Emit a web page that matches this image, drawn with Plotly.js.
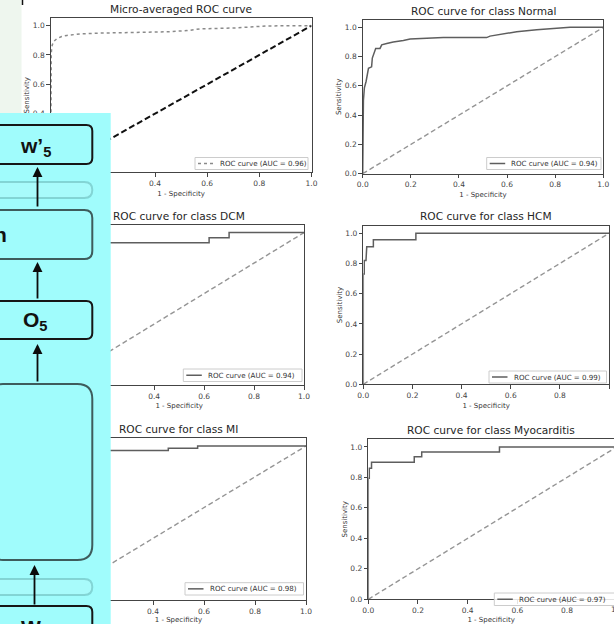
<!DOCTYPE html>
<html><head><meta charset="utf-8">
<script src="https://cdn.plot.ly/plotly-3.0.1.min.js"></script>
<style>html,body{margin:0;padding:0;background:#fff}#chart{width:614px;height:624px}</style>
</head><body><div id="chart"></div>
<script>
// ---------- data ----------
const panelTitles = ['Micro-averaged ROC curve','ROC curve for class Normal','ROC curve for class DCM','ROC curve for class HCM','ROC curve for class MI','ROC curve for class Myocarditis'];
const aucValues = [0.96, 0.94, 0.94, 0.99, 0.98, 0.97];
const tickValues = [0, 0.2, 0.4, 0.6, 0.8, 1.0];
const diagX = [0, 1];
const diagY = [0, 1];

const microFpr = [0, 0, 0.002, 0.004, 0.01, 0.023, 0.042, 0.062, 0.113, 0.19, 0.318, 0.446, 0.523, 0.574, 0.703, 0.831, 1.0];
const microTpr = [0, 0.55, 0.8, 0.855, 0.89, 0.91, 0.926, 0.933, 0.944, 0.949, 0.953, 0.958, 0.966, 0.978, 0.984, 0.998, 1.0];

const normalFpr = [0, 0, 0.003, 0.007, 0.014, 0.024, 0.037, 0.04, 0.047, 0.054, 0.072, 0.079, 0.1, 0.127, 0.169, 0.197, 0.335, 0.515, 0.529, 0.585, 0.64, 0.723, 0.862, 1.0];
const normalTpr = [0, 0.25, 0.5, 0.586, 0.63, 0.72, 0.73, 0.79, 0.82, 0.856, 0.856, 0.88, 0.89, 0.90, 0.91, 0.92, 0.93, 0.93, 0.94, 0.957, 0.97, 0.984, 1.0, 1.0];

const dcmFpr = [0, 0, 0.02, 0.02, 0.05, 0.05, 0.1, 0.1, 0.62, 0.62, 0.70, 0.70, 1.0];
const dcmTpr = [0, 0.6, 0.6, 0.8, 0.8, 0.9, 0.9, 0.933, 0.933, 0.967, 0.967, 1.0, 1.0];

const hcmFpr = [0, 0, 0.004, 0.004, 0.011, 0.011, 0.014, 0.014, 0.041, 0.041, 0.214, 0.214, 1.0];
const hcmTpr = [0, 0.73, 0.73, 0.82, 0.82, 0.87, 0.87, 0.91, 0.91, 0.957, 0.957, 1.0, 1.0];

const miFpr = [0, 0, 0.03, 0.03, 0.46, 0.46, 0.575, 0.575, 1.0];
const miTpr = [0, 0.85, 0.85, 0.97, 0.97, 0.985, 0.985, 1.0, 1.0];

const myoFpr = [0, 0, 0.004, 0.004, 0.009, 0.013, 0.013, 0.185, 0.185, 0.215, 0.215, 0.528, 0.528, 1.0];
const myoTpr = [0, 0.794, 0.794, 0.86, 0.86, 0.86, 0.9, 0.9, 0.935, 0.935, 0.967, 0.967, 1.0, 1.0];

// ---------- layout helpers ----------
const W = 614, H = 624;
const px = x => x / W;
const py = y => 1 - y / H;
const FONT = 'DejaVu Sans, Liberation Sans, sans-serif';

// panel frames in pixels: [left, right, top, bottom, xmax, show y title]
const frames = [
  [50.7, 311.5, 18.3, 172.3, 1.0, true],
  [362.7, 603.3, 20, 173.7, 1.0, true],
  [54.3, 304, 225, 385, 1.0, false],
  [363.3, 609, 225.7, 384.3, 1.0, true],
  [51, 306, 438.3, 600, 1.0, false],
  [368.3, 614, 439.3, 599.3, 0.989, true]
];
// legend boxes in pixels: [left, right, top, bottom]
const legendBoxes = [
  [195, 308, 157.5, 169.5], [486.7, 601, 157.5, 169.5], [183.3, 302, 369, 381.5],
  [489, 606.5, 371, 383], [185, 303.5, 582.7, 595], [494.3, 620, 593, 605.5]
];
const curves = [
  [microFpr, microTpr], [normalFpr, normalTpr], [dcmFpr, dcmTpr],
  [hcmFpr, hcmTpr], [miFpr, miTpr], [myoFpr, myoTpr]
];

const layout = {
  width: W, height: H,
  margin: {l: 0, r: 0, t: 0, b: 0},
  paper_bgcolor: '#fff', plot_bgcolor: '#fff',
  showlegend: false,
  font: {family: FONT, color: '#333'},
  annotations: [], shapes: []
};
const data = [];

frames.forEach((f, i) => {
  const n = i === 0 ? '' : String(i + 1);
  const xa = 'xaxis' + n, ya = 'yaxis' + n;
  const common = {
    showgrid: false, zeroline: false, showline: true, mirror: true,
    linecolor: '#444', linewidth: 1, ticks: 'outside', ticklen: 3.5, tickwidth: 1,
    tickcolor: '#444', tickvals: tickValues, tickformat: '.1f',
    tickfont: {size: 7.5, color: '#444', family: FONT}, fixedrange: true
  };
  layout[xa] = Object.assign({}, common, {
    domain: [px(f[0]), px(f[1])], range: [0, f[4]], anchor: 'y' + n,
    title: {text: '1 - Specificity', font: {size: 7, color: '#333', family: FONT}, standoff: 3.5}
  });
  layout[ya] = Object.assign({}, common, {
    domain: [py(f[3]), py(f[2])], range: [0, 1.05], anchor: 'x' + n,
    mirror: f[4] < 1 ? false : true,
    title: {text: f[5] ? 'Sensitivity' : '', font: {size: 7, color: '#333', family: FONT}, standoff: 1.5}
  });
  // diagonal
  data.push({
    x: diagX, y: diagY, xaxis: 'x' + n, yaxis: 'y' + n, mode: 'lines', showlegend: false,
    hoverinfo: 'skip',
    line: i === 0 ? {color: '#111', width: 2, dash: '6px,3px'} : {color: '#959595', width: 1.4, dash: '5px,3px'}
  });
  // ROC curve
  const lineStyle = i === 0 ? {color: '#8a8a8a', width: 1.5, dash: 'dot'} : {color: '#5e5e5e', width: 1.5};
  data.push({
    x: curves[i][0], y: curves[i][1], xaxis: 'x' + n, yaxis: 'y' + n, mode: 'lines',
    name: 'ROC curve (AUC = ' + aucValues[i].toFixed(2) + ')', line: lineStyle
  });
  // panel title
  layout.annotations.push({
    xref: 'paper', yref: 'paper', x: px((f[0] + Math.min(f[1], 616.7)) / 2), y: py(f[2] - 9.5),
    xanchor: 'center', yanchor: 'middle', showarrow: false,
    text: panelTitles[i], font: {size: 10.6, color: '#262626', family: FONT}
  });
  // legend (matplotlib style, drawn small)
  const lb = legendBoxes[i];
  const mid = (lb[2] + lb[3]) / 2;
  layout.shapes.push(
    {type: 'rect', xref: 'paper', yref: 'paper', x0: px(lb[0]), x1: px(lb[1]), y0: py(lb[3]), y1: py(lb[2]),
      fillcolor: 'rgba(255,255,255,0.85)', line: {color: '#cccccc', width: 1}, layer: 'above'},
    {type: 'line', xref: 'paper', yref: 'paper', x0: px(lb[0] + 3), x1: px(lb[0] + 18.5), y0: py(mid), y1: py(mid),
      line: lineStyle, layer: 'above'}
  );
  layout.annotations.push({
    xref: 'paper', yref: 'paper', x: px(lb[0] + 22.5), y: py(mid), xanchor: 'left', yanchor: 'middle',
    showarrow: false, text: 'ROC curve (AUC = ' + aucValues[i].toFixed(2) + ')',
    font: {size: 7.1, color: '#333', family: FONT}
  });
});
// the last panel's 1.0 tick label lies partly beyond the page edge
layout.annotations.push({xref: 'paper', yref: 'paper', x: px(616.7), y: py(603), xanchor: 'center', yanchor: 'top',
  showarrow: false, text: '1.0', font: {size: 7.5, color: '#444', family: FONT}});

// ---------- overlay diagram on the left ----------
const CYAN = '#a0fcfc';
function rrect(l, r, t, b, rad) {
  const L = px(l), R = px(r), T = py(t), B = py(b);
  const rx = rad / W, ry = rad / H;
  return 'M' + (L + rx) + ',' + T + ' L' + (R - rx) + ',' + T + ' Q' + R + ',' + T + ' ' + R + ',' + (T - ry) +
    ' L' + R + ',' + (B + ry) + ' Q' + R + ',' + B + ' ' + (R - rx) + ',' + B +
    ' L' + (L + rx) + ',' + B + ' Q' + L + ',' + B + ' ' + L + ',' + (B + ry) +
    ' L' + L + ',' + (T - ry) + ' Q' + L + ',' + T + ' ' + (L + rx) + ',' + T + ' Z';
}
layout.shapes.push(
  {type: 'rect', xref: 'paper', yref: 'paper', x0: 0, x1: px(21.5), y0: py(113), y1: 1, fillcolor: '#eef6ee', line: {width: 0}, layer: 'above'},
  {type: 'line', xref: 'paper', yref: 'paper', x0: px(22.5), x1: px(22.5), y0: py(5), y1: 1, line: {color: '#111', width: 1.5}, layer: 'above'},
  {type: 'rect', xref: 'paper', yref: 'paper', x0: 0, x1: px(110.7), y0: 0, y1: py(113), fillcolor: CYAN, line: {width: 0}, layer: 'above'}
);
const boxes = [
  [125, 164, 6, '#161616', 'none'],
  [182, 198, 8, 'rgba(70,140,140,0.35)', '#a8fbfb'],
  [210, 259, 8, '#3e5c5c', 'none'],
  [301, 339, 6, '#161616', 'none'],
  [384, 560, 15, '#3e5c5c', 'none'],
  [579, 595, 8, 'rgba(70,140,140,0.35)', '#a8fbfb'],
  [606, 650, 6, '#161616', 'none']
];
boxes.forEach(b => layout.shapes.push({
  type: 'path', xref: 'paper', yref: 'paper', path: rrect(-12, 92.3, b[0], b[1], b[2]),
  line: {color: b[3], width: 2}, fillcolor: b[4] === 'none' ? 'rgba(0,0,0,0)' : b[4], layer: 'above'
}));
const arrows = [[37.5, 167, 208], [37.5, 262, 300], [37.5, 344, 383], [34.5, 565, 606]];
arrows.forEach(a => layout.annotations.push({
  xref: 'paper', yref: 'paper', x: px(a[0]), y: py(a[1]), ax: 0, ay: a[2] - a[1],
  axref: 'pixel', ayref: 'pixel', text: '', showarrow: true, arrowhead: 2, arrowsize: 1.1,
  arrowwidth: 1.8, arrowcolor: '#0c0c0c', standoff: 0, startstandoff: 0
}));
const boxFont = {family: 'Liberation Sans, Arial, sans-serif', size: 21, color: '#111'};
layout.annotations.push(
  {xref: 'paper', yref: 'paper', x: px(35), y: py(147), xanchor: 'center', yanchor: 'middle', showarrow: false, text: '<b>w’<sub>5</sub></b>', font: boxFont},
  {xref: 'paper', yref: 'paper', x: px(9), y: py(234), xanchor: 'right', yanchor: 'middle', showarrow: false, text: '<b>n</b>', font: boxFont},
  {xref: 'paper', yref: 'paper', x: px(35), y: py(321), xanchor: 'center', yanchor: 'middle', showarrow: false, text: '<b>O<sub>5</sub></b>', font: boxFont},
  {xref: 'paper', yref: 'paper', x: px(31), y: py(627), xanchor: 'center', yanchor: 'middle', showarrow: false, text: '<b>W</b>', font: boxFont}
);

Plotly.newPlot('chart', data, layout, {displayModeBar: false, staticPlot: true});
</script></body></html>
